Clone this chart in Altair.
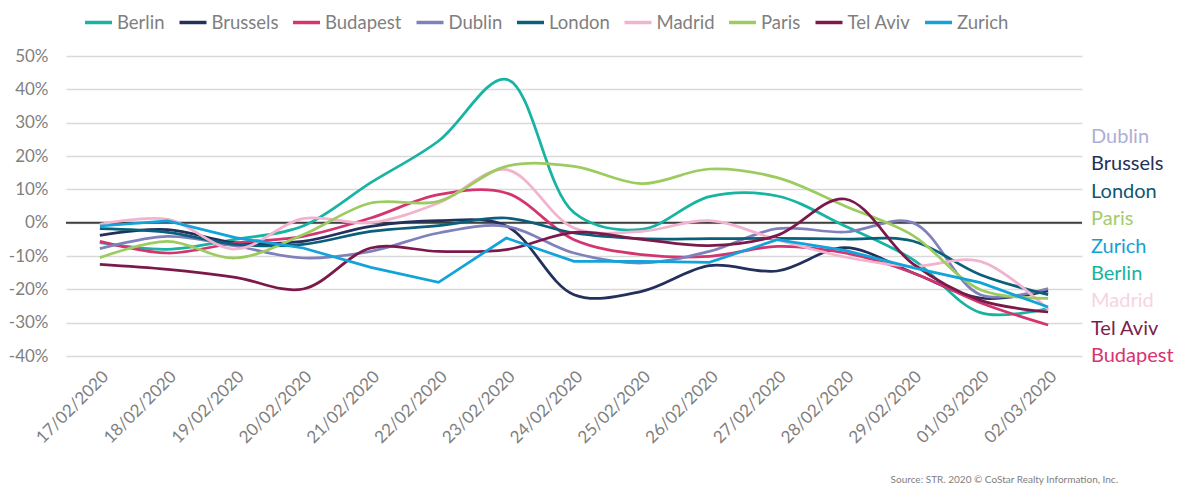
import altair as alt
import pandas as pd

dates = ["17/02/2020", "18/02/2020", "19/02/2020", "20/02/2020", "21/02/2020",
         "22/02/2020", "23/02/2020", "24/02/2020", "25/02/2020", "26/02/2020",
         "27/02/2020", "28/02/2020", "29/02/2020", "01/03/2020", "02/03/2020"]

cities = ["Berlin", "Brussels", "Budapest", "Dublin", "London", "Madrid", "Paris", "Tel Aviv", "Zurich"]

berlin = [-6, -8, -5, -1, 12, 24.5, 43, 3, -2, 7.8, 8, -1, -11, -27, -25.8]
brussels = [-3.8, -2.1, -6, -5.6, -1.1, 0.6, -1, -21.6, -20.6, -12.9, -14.5, -7.5, -15, -22.6, -20.5]
budapest = [-5.6, -9.1, -6.1, -4.1, 1.4, 8.4, 8.9, -5.1, -9.6, -10.1, -7.1, -9.1, -15, -24, -30.7]
dublin = [-7.8, -4.1, -7, -10.6, -8.6, -3.1, -1.1, -9.1, -12.1, -8.6, -1.8, -2.8, 0, -21.6, -19.8]
london = [-1.8, -2.9, -6.5, -6.5, -2.6, -0.9, 1.4, -3.1, -4.8, -4.8, -4.7, -4.9, -5.5, -15.6, -21.6]
madrid = [-0.5, 1, -7.9, 1.2, 0, 5.9, 15.9, -1.6, -2.6, 0.6, -5.1, -10.3, -13.1, -11.6, -26]
paris = [-10.5, -5.6, -10.6, -3.6, 5.9, 6.4, 16.9, 16.9, 11.7, 16.1, 13.5, 5, -3.8, -20.1, -22.7]
tel_aviv = [-12.5, -14, -16.4, -19.9, -7.6, -8.6, -8.1, -2.9, -5, -6.9, -3.8, 7.1, -12.3, -23.3, -26.8]
zurich = [-1, 0.5, -4.5, -7.6, -13.4, -17.9, -4.6, -11.6, -11.6, -11.9, -5.1, -8.3, -13.5, -18, -25.3]

colors = ["#17b3a3", "#22305b", "#d4356f", "#8080bc", "#0a5f7b", "#f2b3cf", "#9ccc5f", "#7b1a4a", "#11a3d9"]

label_order = ["Dublin", "Brussels", "London", "Paris", "Zurich", "Berlin", "Madrid", "Tel Aviv", "Budapest"]
label_colors = ["#adafd4", "#253158", "#0f5675", "#a3cc6a", "#14a0d5", "#16b3a3", "#f7d3e4", "#7a1f4b", "#d6336f"]

y_ticks = [-40, -30, -20, -10, 0, 10, 20, 30, 40, 50]

source_text = "Source: STR. 2020 \u00a9 CoStar Realty Information, Inc."

series = {"Berlin": berlin, "Brussels": brussels, "Budapest": budapest, "Dublin": dublin,
          "London": london, "Madrid": madrid, "Paris": paris, "Tel Aviv": tel_aviv, "Zurich": zurich}

rows = []
for c in cities:
    for d, v in zip(dates, series[c]):
        rows.append({"city": c, "date": d, "value": v})
df = pd.DataFrame(rows)
df_smooth = df[df.city != "Zurich"]
df_zurich = df[df.city == "Zurich"]

FONT = "Lato"
GREY = "#7f7f7f"

x_enc = alt.X("date:O", sort=dates, title=None,
              scale=alt.Scale(type="point", padding=0.5),
              axis=alt.Axis(labelAngle=-45, labelFontSize=17, labelColor=GREY,
                            domain=False, ticks=False, grid=False, labelPadding=12))
y_enc = alt.Y("value:Q", title=None,
              scale=alt.Scale(domain=[-40, 50], nice=False, zero=False),
              axis=alt.Axis(values=y_ticks, labelExpr="datum.value + '%'",
                            grid=True, gridColor="#d9d9d9", gridWidth=1.3, gridOpacity=1,
                            domain=False, labelOverlap=False,
                            ticks=False, labelFontSize=17, labelColor=GREY, labelPadding=18))
color_enc = alt.Color("city:N", scale=alt.Scale(domain=cities, range=colors),
                      legend=alt.Legend(orient="none", legendX=17, legendY=-49,
                                        direction="horizontal", columns=9, title=None,
                                        symbolType="stroke", symbolSize=729,
                                        symbolStrokeWidth=3.5, labelFontSize=18.5,
                                        labelColor=GREY, labelOffset=3,
                                        columnPadding=7.5, padding=0))

zero_rule = alt.Chart(pd.DataFrame({"value": [0]})).mark_rule(
    color="#404040", strokeWidth=2).encode(y=y_enc)

smooth = alt.Chart(df_smooth).mark_line(interpolate="catmull-rom", strokeWidth=2.75).encode(
    x=x_enc, y=y_enc, color=color_enc)
zur = alt.Chart(df_zurich).mark_line(interpolate="linear", strokeWidth=2.75).encode(
    x=x_enc, y=y_enc, color=color_enc)

# right-hand label column (pixel placement, evenly spaced)
labels = alt.Chart(pd.DataFrame({"name": label_order, "col": label_colors})).transform_window(
    rank="row_number()"
).transform_calculate(
    py="81 + (datum.rank - 1) * 27.4"
).mark_text(align="left", baseline="middle", fontSize=20, font=FONT).encode(
    x=alt.value(1025),
    y=alt.Y("py:Q", scale=None, axis=None),
    color=alt.Color("col:N", scale=None),
    text="name:N")

source = alt.Chart(pd.DataFrame({"t": [source_text]})).mark_text(
    align="right", baseline="middle", fontSize=10, font=FONT, color="#808080").encode(
    text="t:N", x=alt.value(1052), y=alt.value(424))

chart = alt.layer(zero_rule, smooth, zur, labels, source).properties(
    width=1016, height=300,
    autosize=alt.AutoSizeParams(type="none"),
    padding={"left": 58, "top": 48, "right": 101, "bottom": 130}
).configure(font=FONT).configure_view(stroke=None)

chart.save("out.html", embed_options={"renderer": "svg", "actions": False})
